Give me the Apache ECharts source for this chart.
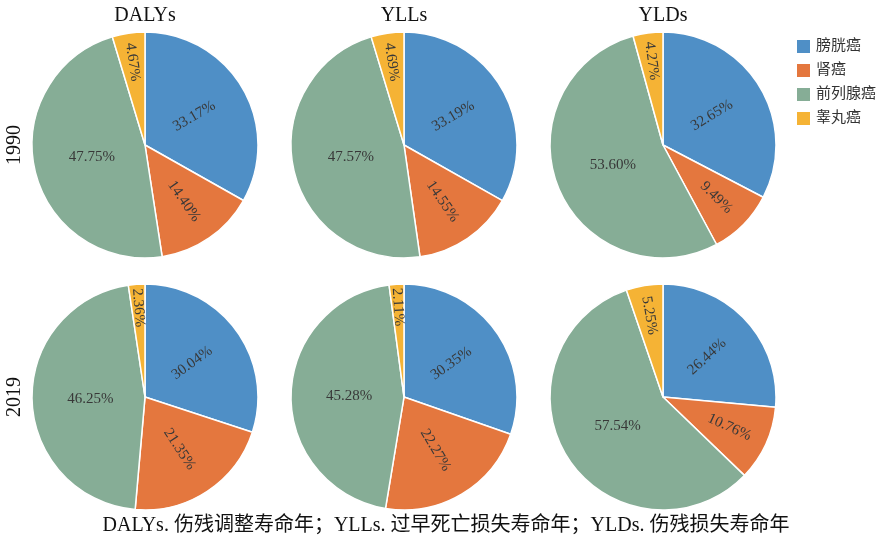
<!DOCTYPE html>
<html>
<head>
<meta charset="utf-8">
<script src="https://cdn.jsdelivr.net/npm/echarts@6/dist/echarts.min.js"></script>
<style>
html, body { margin: 0; padding: 0; background: #fff; }
#main { width: 878px; height: 549px; }
</style>
</head>
<body>
<div id="main"></div>
<script>
// 类别与数据
var cancerNames = ['膀胱癌', '肾癌', '前列腺癌', '睾丸癌']
var measureNames = ['DALYs', 'YLLs', 'YLDs']
var yearNames = ['1990', '2019']

var dalys1990 = [33.17, 14.40, 47.75, 4.67]
var ylls1990 = [33.19, 14.55, 47.57, 4.69]
var ylds1990 = [32.65, 9.49, 53.60, 4.27]
var dalys2019 = [30.04, 21.35, 46.25, 2.36]
var ylls2019 = [30.35, 22.27, 45.28, 2.11]
var ylds2019 = [26.44, 10.76, 57.54, 5.25]

var pieValues = [
    [dalys1990, ylls1990, ylds1990],
    [dalys2019, ylls2019, ylds2019]
]

var colors = ['#4f8fc6', '#e4773e', '#86ad96', '#f5b335']
var serifFont = '"Liberation Serif", "DejaVu Serif", serif'
var cjkFont = '"Liberation Serif", "Noto Sans CJK SC", serif'

var colX = [145, 404, 663]
var rowY = [145, 397]
var pieR = 113

function createPieSeries(values, cx, cy) {
    let total = values.reduce((a, b) => a + b, 0)
    let data = []
    values.forEach((v, i) => {
        let item = { name: cancerNames[i], value: v }
        // 前列腺癌（最大扇区）标签水平放置
        if (i === 2) item.label = { rotate: 0 }
        data.push(item)
    })
    return {
        type: 'pie',
        radius: pieR,
        center: [cx, cy],
        startAngle: 90,
        clockwise: true,
        silent: true,
        data: data,
        itemStyle: {
            borderColor: '#fff',
            borderWidth: 1.5
        },
        label: {
            position: 'inside',
            rotate: 'radial',
            color: '#383838',
            fontSize: 15,
            fontFamily: serifFont,
            formatter: p => p.value.toFixed(2) + '%'
        },
        labelLine: { show: false },
        // 窄扇区的标签往外推一些
        labelLayout: function (params) {
            let idx = params.dataIndex
            let before = 0
            for (let j = 0; j < idx; j++) before += values[j]
            let mid = (before + values[idx] / 2) / total
            let ang = Math.PI / 2 - mid * Math.PI * 2
            let share = values[idx] / total * 100
            let k = 0.47 + 0.38 * Math.exp(-share / 14)
            return {
                x: cx + k * pieR * Math.cos(ang),
                y: cy - k * pieR * Math.sin(ang)
            }
        }
    }
}

var myChart = echarts.init(document.getElementById('main'))

let seriesList = []
pieValues.forEach((row, r) => {
    row.forEach((vals, c) => {
        seriesList.push(createPieSeries(vals, colX[c], rowY[r]))
    })
})

let graList = []
measureNames.forEach((t, c) => {
    graList.push({
        type: 'text',
        x: colX[c],
        y: 16,
        style: {
            text: t,
            fill: '#111',
            font: '20px ' + serifFont,
            textAlign: 'center',
            textVerticalAlign: 'middle'
        }
    })
})
yearNames.forEach((t, r) => {
    graList.push({
        type: 'text',
        x: 15,
        y: rowY[r],
        rotation: Math.PI / 2,
        style: {
            text: t,
            fill: '#111',
            font: '20px ' + serifFont,
            textAlign: 'center',
            textVerticalAlign: 'middle'
        }
    })
})
graList.push({
    type: 'text',
    x: 446,
    y: 526,
    style: {
        text: 'DALYs. 伤残调整寿命年；YLLs. 过早死亡损失寿命年；YLDs. 伤残损失寿命年',
        fill: '#111',
        font: '20px ' + cjkFont,
        textAlign: 'center',
        textVerticalAlign: 'middle'
    }
})

let option = {
    color: colors,
    animation: false,
    legend: {
        orient: 'vertical',
        left: 790,
        top: 33,
        itemWidth: 15,
        itemHeight: 15,
        itemGap: 7,
        icon: 'rect',
        data: cancerNames,
        textStyle: {
            fontSize: 15,
            color: '#333',
            fontFamily: cjkFont
        }
    },
    graphic: graList,
    series: seriesList
}

myChart.setOption(option)
</script>
</body>
</html>
